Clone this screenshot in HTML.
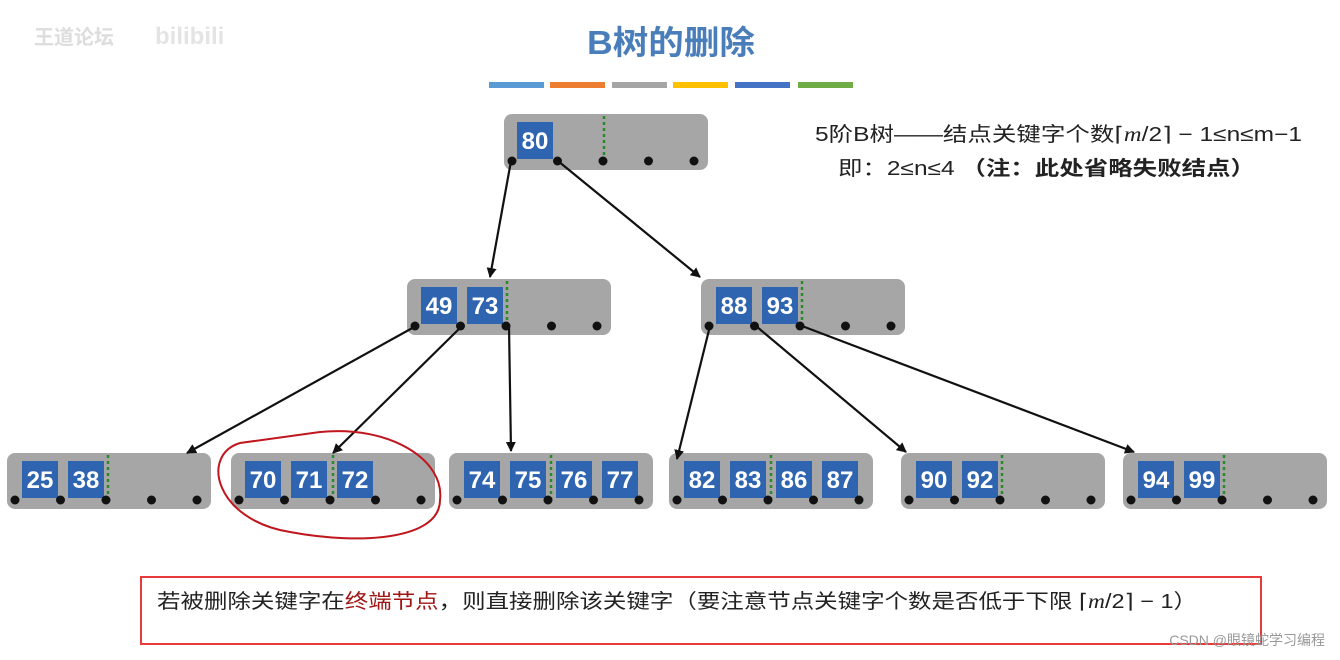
<!DOCTYPE html><html><head><meta charset="utf-8"><style>
body{margin:0;width:1340px;height:660px;background:#fff;position:relative;overflow:hidden;font-family:"Liberation Sans","Noto Sans CJK SC",sans-serif}
</style></head><body>
<svg width="1340" height="660" style="position:absolute;left:0;top:0" font-family="Liberation Sans, Noto Sans CJK SC, sans-serif">
<defs><marker id="a" markerWidth="10" markerHeight="10" refX="9" refY="5" orient="auto" markerUnits="userSpaceOnUse"><path d="M0,0 L10,5 L0,10 z" fill="#111"/></marker></defs>
<text x="34" y="44" font-size="20" fill="#ddd" font-weight="bold">王道论坛</text>
<text x="155" y="44" font-size="24" fill="#e4e4e4" font-weight="bold">bilibili</text>
<text x="671" y="54" font-size="33" font-weight="bold" fill="#4a7ebb" text-anchor="middle" textLength="168" lengthAdjust="spacingAndGlyphs">B树的删除</text>
<rect x="489" y="82" width="55" height="6" fill="#5b9bd5"/><rect x="550" y="82" width="55" height="6" fill="#ed7d31"/><rect x="612" y="82" width="55" height="6" fill="#a5a5a5"/><rect x="673" y="82" width="55" height="6" fill="#ffc000"/><rect x="735" y="82" width="55" height="6" fill="#4472c4"/><rect x="798" y="82" width="55" height="6" fill="#70ad47"/>
<g id="nodes"></g>
<g stroke="#111" stroke-width="2.2" marker-end="url(#a)">
<line x1="511" y1="161" x2="490" y2="277"/><line x1="558" y1="161" x2="700" y2="277"/>
<line x1="416" y1="326" x2="187" y2="453"/><line x1="462" y1="326" x2="333" y2="453"/><line x1="509" y1="326" x2="511" y2="451"/>
<line x1="710" y1="326" x2="677" y2="459"/><line x1="756" y1="326" x2="906" y2="452"/><line x1="802" y1="326" x2="1134" y2="452"/>
</g>
<path d="M240,443 C200,455 215,520 290,532 C360,545 440,540 440,500 C445,460 390,425 320,432 C290,436 260,440 240,443" fill="none" stroke="#c0161d" stroke-width="2"/>
<text x="815" y="141" font-size="20" fill="#222" textLength="487" lengthAdjust="spacingAndGlyphs">5阶B树——结点关键字个数⌈<tspan font-style="italic" font-family="Liberation Serif">m</tspan>/2⌉ − 1≤n≤m−1</text>
<text x="838" y="175" font-size="20" fill="#222" textLength="417" lengthAdjust="spacingAndGlyphs">即：2≤n≤4 <tspan font-weight="bold">（注：此处省略失败结点）</tspan></text>
<rect x="141" y="577" width="1120" height="67" fill="none" stroke="#e83a3a" stroke-width="2"/>
<text x="157" y="608" font-size="20" fill="#222" textLength="1040" lengthAdjust="spacingAndGlyphs">若被删除关键字在<tspan fill="#a01515">终端节点</tspan>，则直接删除该关键字（要注意节点关键字个数是否低于下限 ⌈<tspan font-style="italic" font-family="Liberation Serif">m</tspan>/2⌉ − 1）</text>
<text x="1325" y="645" font-size="14" fill="#999" text-anchor="end">CSDN @眼镜蛇学习编程</text>
</svg>
<script>
var N=[[504,114,[80],517,604],[407,279,[49,73],421,507],[701,279,[88,93],716,802],[7,453,[25,38],22,108],[231,453,[70,71,72],245,333],[449,453,[74,75,76,77],464,551],[669,453,[82,83,86,87],684,771],[901,453,[90,92],916,1002],[1123,453,[94,99],1138,1224]];
var s='';N.forEach(function(n){var x=n[0],y=n[1],kx=n[3];
s+='<rect x="'+x+'" y="'+y+'" width="204" height="56" rx="8" fill="#a6a6a6"/>';
n[2].forEach(function(k,i){var bx=kx+i*46;s+='<rect x="'+bx+'" y="'+(y+8)+'" width="36" height="37" fill="#2e64b0"/><text x="'+(bx+18)+'" y="'+(y+35)+'" font-size="24" font-weight="bold" fill="#fff" text-anchor="middle">'+k+'</text>';});
var lx=n[4];s+='<line x1="'+lx+'" y1="'+(y+2)+'" x2="'+lx+'" y2="'+(y+46)+'" stroke="#2a8a2a" stroke-width="2.5" stroke-dasharray="3,3"/>';
for(var i=0;i<5;i++){s+='<circle cx="'+(x+8+i*45.5)+'" cy="'+(y+47)+'" r="4.5" fill="#111"/>';}});
document.getElementById('nodes').innerHTML=s;
</script>
</body></html>
